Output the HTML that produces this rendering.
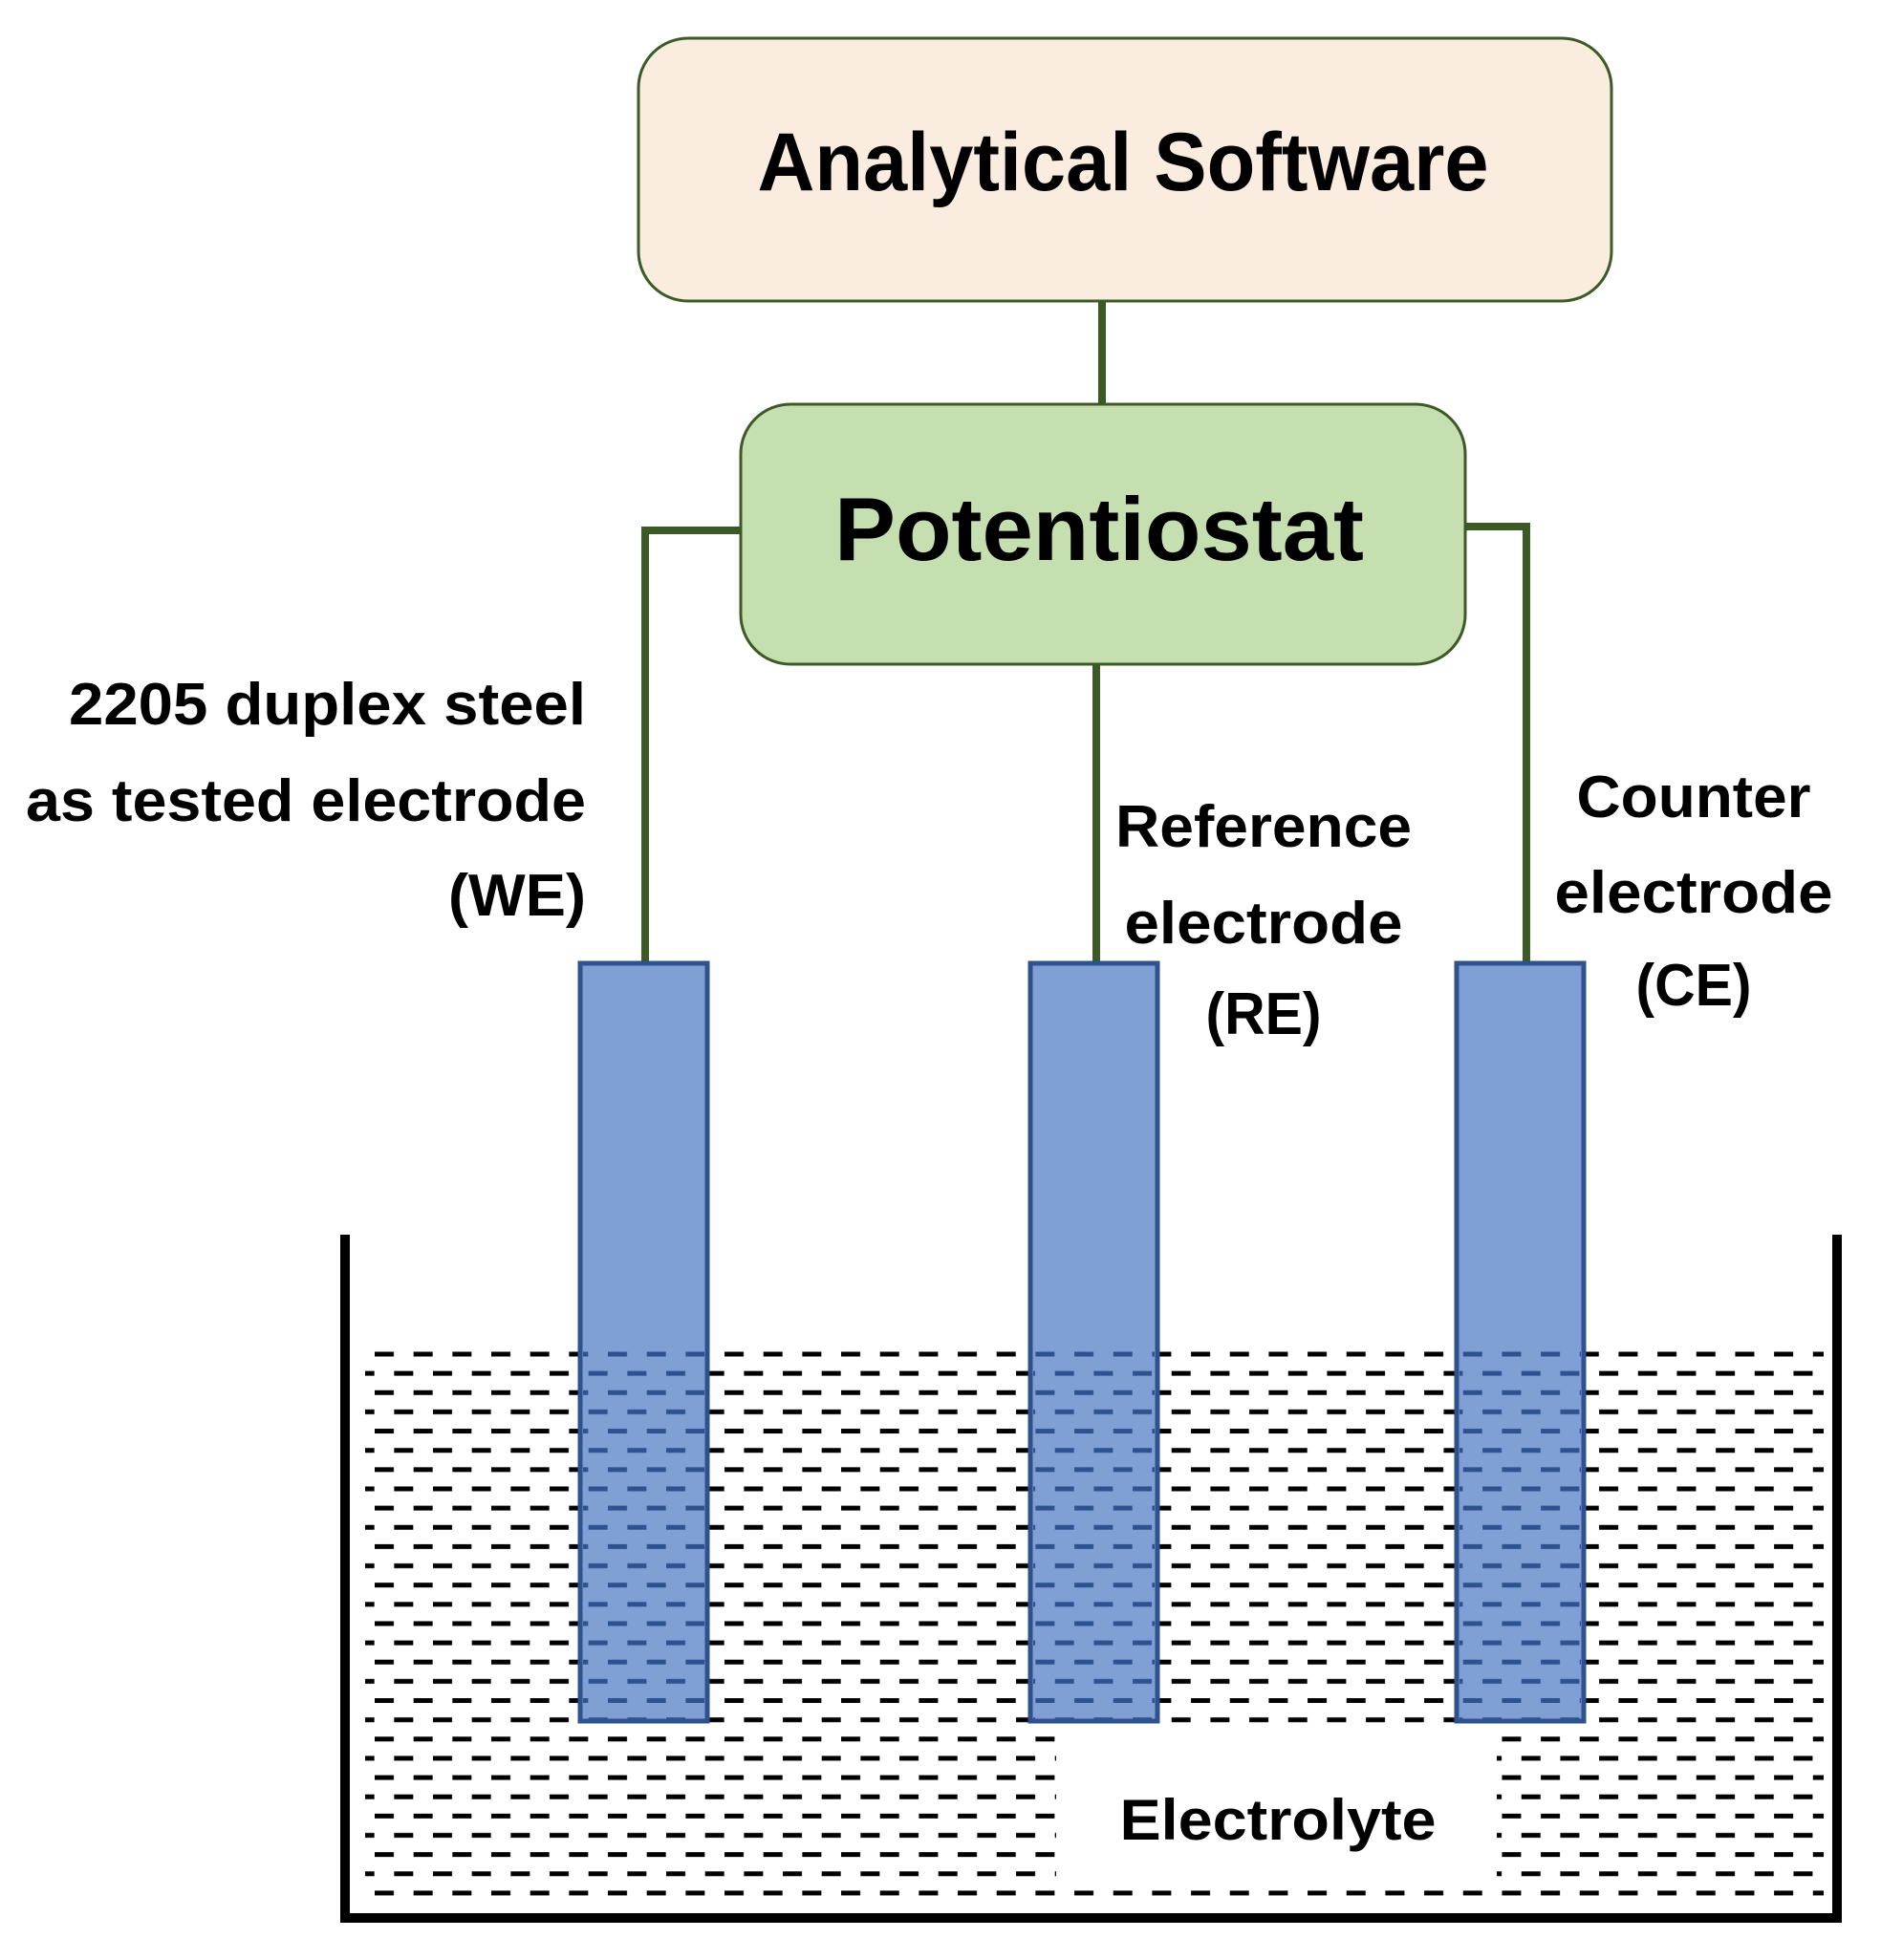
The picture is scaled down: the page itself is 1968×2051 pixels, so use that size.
<!DOCTYPE html>
<html><head><meta charset="utf-8"><style>html,body{margin:0;padding:0;background:#fff}svg{display:block}</style></head>
<body>
<svg width="1968" height="2051" viewBox="0 0 1968 2051" xmlns="http://www.w3.org/2000/svg" font-family="'Liberation Sans', sans-serif" font-weight="bold">
<defs>
<pattern id="dk" patternUnits="userSpaceOnUse" x="392" y="1414.5" width="40.67" height="40.28">
<rect x="0" y="0" width="20" height="5" fill="#000"/>
<rect x="20.33" y="20.14" width="20" height="5" fill="#000"/>
</pattern>
<pattern id="db" patternUnits="userSpaceOnUse" x="392" y="1414.5" width="40.67" height="40.28">
<rect x="0" y="0" width="20" height="5" fill="#2f528f"/>
<rect x="20.33" y="20.14" width="20" height="5" fill="#2f528f"/>
</pattern>
</defs>
<rect x="668" y="40" width="1018" height="275" rx="52" fill="#fbece0" stroke="#3b5a26" stroke-width="3"/>
<text x="1175" y="199" font-size="86" text-anchor="middle" textLength="765" lengthAdjust="spacingAndGlyphs">Analytical Software</text>
<line x1="1153" y1="315" x2="1153" y2="423" stroke="#3b5a26" stroke-width="8"/>
<rect x="775" y="423" width="758" height="272" rx="52" fill="#c5dfb0" stroke="#3b5a26" stroke-width="3"/>
<text x="1150" y="586" font-size="94" text-anchor="middle" textLength="554" lengthAdjust="spacingAndGlyphs">Potentiostat</text>
<polyline points="775,555 675,555 675,1008" fill="none" stroke="#3b5a26" stroke-width="8"/>
<polyline points="1533,551 1597,551 1597,1008" fill="none" stroke="#3b5a26" stroke-width="8"/>
<line x1="1147" y1="695" x2="1147" y2="1008" stroke="#3b5a26" stroke-width="8"/>
<g font-size="62">
<text x="613" y="758" text-anchor="end" textLength="541" lengthAdjust="spacingAndGlyphs">2205 duplex steel</text>
<text x="613" y="859" text-anchor="end" textLength="586" lengthAdjust="spacingAndGlyphs">as tested electrode</text>
<text x="613" y="958" text-anchor="end" textLength="144" lengthAdjust="spacingAndGlyphs">(WE)</text>
<text x="1322" y="886" text-anchor="middle" textLength="310" lengthAdjust="spacingAndGlyphs">Reference</text>
<text x="1322" y="987" text-anchor="middle" textLength="291" lengthAdjust="spacingAndGlyphs">electrode</text>
<text x="1322" y="1082" text-anchor="middle" textLength="121" lengthAdjust="spacingAndGlyphs">(RE)</text>
<text x="1772" y="855" text-anchor="middle" textLength="245" lengthAdjust="spacingAndGlyphs">Counter</text>
<text x="1772" y="955" text-anchor="middle" textLength="291" lengthAdjust="spacingAndGlyphs">electrode</text>
<text x="1772" y="1052" text-anchor="middle" textLength="121" lengthAdjust="spacingAndGlyphs">(CE)</text>
</g>
<rect x="382" y="1414" width="1526" height="572" fill="url(#dk)"/>
<rect x="1105" y="1810" width="461" height="162" fill="#fff"/>
<text x="1337" y="1925" font-size="60" text-anchor="middle" textLength="331" lengthAdjust="spacingAndGlyphs">Electrolyte</text>
<g fill="#7f9fd5" stroke="#2f528f" stroke-width="5">
<rect x="607" y="1008" width="133" height="793"/>
<rect x="1078" y="1008" width="133" height="793"/>
<rect x="1524" y="1008" width="133" height="793"/>
</g>
<rect x="610" y="1414" width="127" height="385" fill="url(#db)"/>
<rect x="1081" y="1414" width="127" height="385" fill="url(#db)"/>
<rect x="1527" y="1414" width="127" height="385" fill="url(#db)"/>
<polyline points="361,1292 361,2007 1922,2007 1922,1292" fill="none" stroke="#000" stroke-width="10"/>
</svg>
</body></html>
